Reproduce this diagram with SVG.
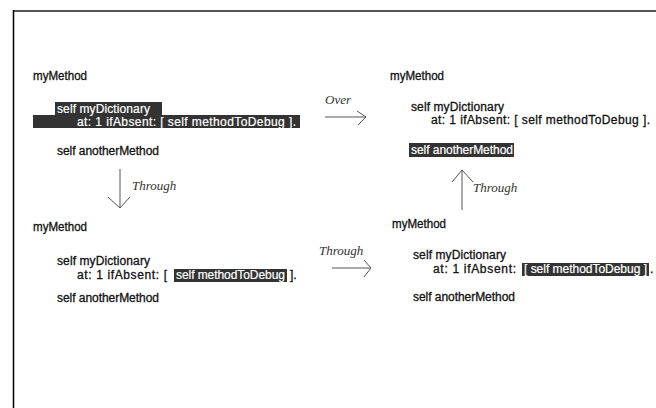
<svg xmlns="http://www.w3.org/2000/svg" width="656" height="408" viewBox="0 0 656 408">
<style>
.t{font-family:"Liberation Sans",Arial,sans-serif;font-size:12px;fill:#111;stroke:#111;stroke-width:0.3}
.w{fill:#fff;stroke:#fff;stroke-width:0.2}
.lbl{font-family:"Liberation Serif","Times New Roman",serif;font-style:italic;font-size:13px;fill:#333}
.hl{fill:#333}
.arr{stroke:#555;stroke-width:1;fill:none}
</style>
<rect width="656" height="408" fill="#fff"/>
<path d="M13,11 H656" stroke="#555" stroke-width="2"/>
<path d="M13.5,10 V408" stroke="#000" stroke-width="1.5"/>
<g id="panel-top-left">
<text class="t" x="33" y="80" textLength="54" lengthAdjust="spacingAndGlyphs">myMethod</text>
<rect class="hl" x="55" y="102" width="107" height="13"/>
<rect class="hl" x="33" y="115" width="267" height="13"/>
<text class="t w" x="57" y="113" textLength="93" lengthAdjust="spacing">self myDictionary</text>
<text class="t w" x="77" y="126" textLength="219" lengthAdjust="spacing">at: 1 ifAbsent: [ self methodToDebug ].</text>
<text class="t" x="57" y="155" textLength="102" lengthAdjust="spacing">self anotherMethod</text>
</g>
<g id="panel-top-right">
<text class="t" x="390" y="80" textLength="54" lengthAdjust="spacingAndGlyphs">myMethod</text>
<text class="t" x="411" y="111" textLength="93" lengthAdjust="spacing">self myDictionary</text>
<text class="t" x="431" y="124" textLength="219" lengthAdjust="spacing">at: 1 ifAbsent: [ self methodToDebug ].</text>
<rect class="hl" x="409" y="143" width="105" height="14"/>
<text class="t w" x="411" y="154" textLength="102" lengthAdjust="spacing">self anotherMethod</text>
</g>
<g id="panel-bottom-left">
<text class="t" x="33" y="231" textLength="54" lengthAdjust="spacingAndGlyphs">myMethod</text>
<text class="t" x="57" y="265" textLength="93" lengthAdjust="spacing">self myDictionary</text>
<text class="t" x="77" y="279" textLength="90" lengthAdjust="spacing">at: 1 ifAbsent: [</text>
<rect class="hl" x="174" y="269" width="113" height="13"/>
<text class="t w" x="176" y="279" textLength="109" lengthAdjust="spacing">self methodToDebug</text>
<text class="t" x="290" y="279">].</text>
<text class="t" x="57" y="302" textLength="102" lengthAdjust="spacing">self anotherMethod</text>
</g>
<g id="panel-bottom-right">
<text class="t" x="392" y="228" textLength="54" lengthAdjust="spacingAndGlyphs">myMethod</text>
<text class="t" x="413" y="259" textLength="93" lengthAdjust="spacing">self myDictionary</text>
<text class="t" x="433" y="273" textLength="83" lengthAdjust="spacing">at: 1 ifAbsent:</text>
<rect class="hl" x="522" y="263" width="127" height="13"/>
<text class="t w" x="524" y="273" textLength="123" lengthAdjust="spacing">[ self methodToDebug ]</text>
<text class="t" x="650" y="273">.</text>
<text class="t" x="413" y="301" textLength="102" lengthAdjust="spacing">self anotherMethod</text>
</g>
<g id="connectors">
<g id="over">
<path class="arr" d="M325,117 H366 M357,111 L366,117 L358,125"/>
<text class="lbl" x="325" y="104">Over</text>
</g>
<g id="through-down">
<path class="arr" d="M120,169 V208 M108,197 L120,208 L130,197"/>
<text class="lbl" x="132" y="190">Through</text>
</g>
<g id="through-right">
<path class="arr" d="M332,268 H371 M364,260 L371,268 L364,277"/>
<text class="lbl" x="319" y="255">Through</text>
</g>
<g id="through-up">
<path class="arr" d="M462,210 V170 M452,182 L462,170 L473,182"/>
<text class="lbl" x="473" y="192">Through</text>
</g>
</g>
</svg>
